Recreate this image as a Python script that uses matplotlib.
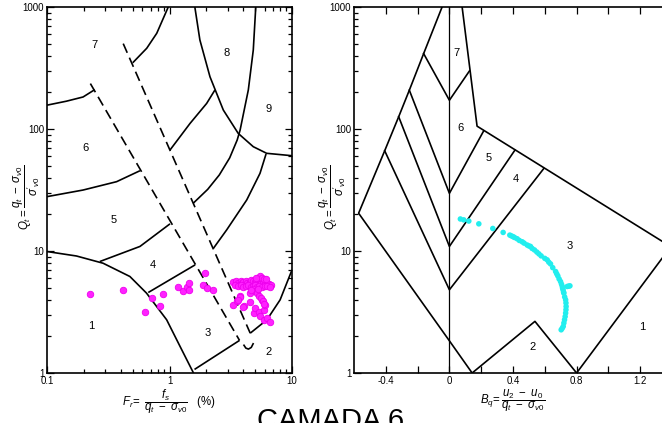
import matplotlib
matplotlib.use("Agg")
import matplotlib.pyplot as plt
from matplotlib.ticker import FixedLocator, LogLocator, NullFormatter, FuncFormatter

plt.rcParams['font.family'] = ['Liberation Sans', 'DejaVu Sans']
plt.rcParams['mathtext.fontset'] = 'custom'
plt.rcParams['mathtext.rm'] = 'Liberation Sans'
plt.rcParams['mathtext.it'] = 'Liberation Sans:italic'
plt.rcParams['mathtext.bf'] = 'Liberation Sans:bold'

# ---------------- Left chart (Fr vs Qt) boundaries ----------------
zone1_fr = [0.1, 0.174, 0.287, 0.475, 0.65, 0.948, 1.22, 1.57]
zone1_qt = [9.9, 9.1, 7.94, 6.18, 4.51, 2.73, 1.65, 1.0]

zone3_bottom_fr = [1.6, 3.73]
zone3_bottom_qt = [1.07, 1.85]

hook_fr = [4.02, 4.2, 4.41, 4.65, 4.85]
hook_qt = [1.71, 1.6, 1.57, 1.62, 1.76]

zone2_fr = [4.56, 6.24, 8.0, 10.0]
zone2_qt = [2.12, 2.73, 3.98, 7.0]

dash_left_fr = [0.226, 3.73]
dash_left_qt = [235.7, 1.85]
dash_right_fr = [0.419, 4.56]
dash_right_qt = [501.0, 2.12]

b34_fr = [0.671, 1.62]
b34_qt = [4.57, 7.7]
b45_fr = [0.27, 0.574, 1.01]
b45_qt = [8.2, 10.9, 16.7]
b56_fr = [0.1, 0.197, 0.37, 0.574]
b56_qt = [27.9, 31.6, 37.0, 45.5]
b67_fr = [0.1, 0.144, 0.197, 0.245]
b67_qt = [156.8, 169.0, 183.0, 210.0]

curveA_fr = [0.501, 0.652, 0.787, 0.89, 0.977]
curveA_qt = [349.0, 459.0, 609.0, 808.0, 1000.0]
curveB_fr = [1.61, 1.77, 2.14, 2.75, 3.64, 4.83, 6.21, 10.0]
curveB_qt = [1000.0, 537.0, 268.0, 143.0, 92.0, 71.6, 63.2, 60.4]
curveC_fr = [1.56, 2.05, 2.55, 3.1, 3.57, 3.77, 4.4, 4.83, 5.06]
curveC_qt = [24.6, 32.0, 42.0, 58.0, 81.3, 98.0, 209.0, 444.0, 1000.0]
curveD_fr = [1.01, 1.47, 2.01, 2.35]
curveD_qt = [67.3, 111.0, 162.0, 209.0]
curveE_fr = [2.28, 2.93, 4.27, 5.48, 6.14]
curveE_qt = [10.5, 14.9, 26.2, 43.3, 62.4]

left_zone_labels = ['7', '8', '9', '6', '5', '4', '1', '3', '2']
left_label_fr = [0.245, 2.9, 6.44, 0.207, 0.351, 0.725, 0.231, 2.05, 6.49]
left_label_qt = [485.0, 420.0, 147.0, 70.2, 18.0, 7.7, 2.44, 2.12, 1.5]

# magenta data points
pts_fr = [0.223, 0.414, 0.631, 0.716, 0.836, 0.891, 1.18, 1.28, 1.38, 1.45, 1.44,
          1.86, 1.95, 2.02, 2.26, 3.33, 3.59, 3.73, 4.02, 4.5, 4.85, 5.01, 5.33,
          5.51, 5.86, 5.86, 6.24, 6.56, 6.05, 5.68, 4.5, 3.77, 3.6, 4.0,
          3.3, 3.5, 3.6, 3.8, 3.9, 4.0, 4.2, 4.3, 4.5, 4.6, 4.8, 5.0, 5.1, 5.3,
          5.5, 5.6, 5.8, 6.0, 6.2, 6.5, 6.8,
          3.4, 3.6, 3.8, 4.0, 4.2, 4.4, 4.6, 4.8, 5.0, 5.2, 5.4, 5.7, 6.0, 6.3, 6.6,
          5.3, 5.5, 5.7, 5.9, 5.1, 6.1,
          4.8, 5.0, 5.2, 5.4, 5.6, 5.8, 5.9, 4.6, 5.3]
pts_qt = [4.40, 4.78, 3.14, 4.15, 3.51, 4.40, 5.05, 4.66, 5.05, 5.42, 4.81,
          5.28, 6.66, 4.99, 4.83, 3.62, 3.91, 4.24, 3.56, 3.79, 3.10, 3.40, 3.19,
          2.91, 3.30, 2.70, 2.82, 2.60, 3.62, 3.98, 4.5, 4.2, 3.96, 3.5,
          5.6, 5.7, 5.5, 5.7, 5.5, 5.6, 5.7, 5.5, 5.6, 5.8, 5.7, 5.6, 5.8, 5.7,
          5.6, 5.7, 5.5, 5.6, 5.5, 5.4, 5.3,
          5.3, 5.2, 5.3, 5.1, 5.2, 5.3, 5.1, 5.2, 5.3, 5.1, 5.2, 5.1, 5.2, 5.2, 5.1,
          6.0, 6.2, 6.0, 5.9, 6.0, 5.9,
          4.9, 4.7, 4.5, 4.3, 4.1, 3.9, 3.7, 4.8, 4.9]

# ---------------- Right chart (Bq vs Qt) boundaries ----------------
outer_left_bq = [-0.046, -0.162, -0.252, -0.319, -0.407, -0.571, 0.002, 0.143]
outer_left_qt = [1000.0, 415.0, 208.0, 126.0, 66.3, 20.4, 1.82, 1.0]
zone2r_bq = [0.143, 0.538, 0.8, 1.4]
zone2r_qt = [1.0, 2.65, 1.0, 11.2]
top_bq = [0.08, 0.174, 1.4]
top_qt = [1000.0, 105.5, 10.7]
axis0_bq = [0.0, 0.0]
axis0_qt = [1.0, 1000.0]
v67_bq = [-0.162, 0.0, 0.126]
v67_qt = [415.0, 172.0, 299.0]
v56_bq = [-0.252, 0.0, 0.216]
v56_qt = [208.0, 29.7, 96.7]
v45_bq = [-0.319, 0.0, 0.412]
v45_qt = [126.0, 10.9, 67.1]
v34_bq = [-0.407, 0.0, 0.594]
v34_qt = [66.3, 4.81, 47.5]

right_zone_labels = ['7', '6', '5', '4', '3', '2', '1']
right_label_bq = [0.044, 0.069, 0.244, 0.42, 0.758, 0.521, 1.214]
right_label_qt = [423.0, 102.0, 57.4, 38.6, 11.0, 1.62, 2.38]

# cyan data points
cy_bq = [0.069, 0.090, 0.122, 0.185, 0.273, 0.338, 0.38, 0.39, 0.401, 0.41, 0.426,
         0.44, 0.458, 0.47, 0.489, 0.50, 0.51, 0.52, 0.535, 0.55, 0.563, 0.577,
         0.60, 0.615, 0.625, 0.636, 0.65, 0.668, 0.675, 0.682, 0.69, 0.699, 0.705,
         0.71, 0.715, 0.72, 0.725, 0.731, 0.733, 0.734, 0.733, 0.731, 0.728, 0.724,
         0.72, 0.716, 0.71, 0.703, 0.758, 0.741, 0.75, 0.712, 0.718]
cy_qt = [18.3, 18.0, 17.6, 16.7, 15.3, 14.2, 13.5, 13.3, 13.1, 12.9, 12.6,
         12.2, 11.9, 11.6, 11.2, 11.0, 10.9, 10.5, 10.2, 9.8, 9.47, 9.12,
         8.7, 8.46, 8.1, 7.84, 7.3, 6.79, 6.5, 6.25, 5.9, 5.62, 5.35,
         5.12, 4.8, 4.51, 4.2, 3.98, 3.75, 3.51, 3.3, 3.1, 2.9, 2.73,
         2.57, 2.41, 2.33, 2.26, 5.18, 5.12, 5.15, 4.95, 4.6]

fig = plt.figure(figsize=(6.62, 4.23), dpi=100)
W, H = 662.0, 423.0
ax1 = fig.add_axes([47 / W, 1 - 373 / H, 245 / W, 366 / H])
ax2 = fig.add_axes([354 / W, 1 - 373 / H, 318 / W, 366 / H])

lc = 'black'
lw = 1.2

# ---- left
ax1.set_xscale('log')
ax1.set_yscale('log')
ax1.set_xlim(0.1, 10)
ax1.set_ylim(1, 1000)
for xs, ys in [(zone1_fr, zone1_qt), (zone3_bottom_fr, zone3_bottom_qt), (hook_fr, hook_qt),
               (zone2_fr, zone2_qt), (b34_fr, b34_qt), (b45_fr, b45_qt), (b56_fr, b56_qt),
               (b67_fr, b67_qt), (curveA_fr, curveA_qt), (curveB_fr, curveB_qt),
               (curveC_fr, curveC_qt), (curveD_fr, curveD_qt), (curveE_fr, curveE_qt)]:
    ax1.plot(xs, ys, color=lc, lw=lw, solid_capstyle='butt')
for xs, ys in [(dash_left_fr, dash_left_qt), (dash_right_fr, dash_right_qt)]:
    ax1.plot(xs, ys, color=lc, lw=lw, dashes=(6, 3.2))
for t, x, y in zip(left_zone_labels, left_label_fr, left_label_qt):
    ax1.text(x, y, t, ha='center', va='center', fontsize=8)
ax1.scatter(pts_fr, pts_qt, s=22, color='#ff22ff', edgecolors='#ee00ee', linewidths=0.6, zorder=3)

fmt = FuncFormatter(lambda v, p: '%g' % v)
ax1.xaxis.set_major_locator(FixedLocator([0.1, 1, 10]))
ax1.xaxis.set_major_formatter(fmt)
ax1.xaxis.set_minor_locator(LogLocator(base=10, subs=range(2, 10)))
ax1.xaxis.set_minor_formatter(NullFormatter())
ax1.yaxis.set_major_locator(FixedLocator([1, 10, 100, 1000]))
ax1.yaxis.set_major_formatter(fmt)
ax1.yaxis.set_minor_locator(LogLocator(base=10, subs=range(2, 10)))
ax1.yaxis.set_minor_formatter(NullFormatter())
ax1.set_xlabel(r'$F_r\!=\ \dfrac{f_s}{q_t\ -\ \sigma_{v0}}\ \ \ (\%)$', fontsize=8.3, labelpad=1)
ax1.set_ylabel(r"$Q_t = \dfrac{q_t\ -\ \sigma_{v0}}{\sigma'_{v0}}$", fontsize=8.3)
ax1.yaxis.set_label_coords(-0.022, 0.48)

# ---- right
ax2.set_yscale('log')
ax2.set_xlim(-0.6, 1.4)
ax2.set_ylim(1, 1000)
for xs, ys in [(outer_left_bq, outer_left_qt), (zone2r_bq, zone2r_qt), (top_bq, top_qt),
               (v67_bq, v67_qt), (v56_bq, v56_qt), (v45_bq, v45_qt), (v34_bq, v34_qt)]:
    ax2.plot(xs, ys, color=lc, lw=lw)
ax2.plot(axis0_bq, axis0_qt, color=lc, lw=0.9)
for t, x, y in zip(right_zone_labels, right_label_bq, right_label_qt):
    ax2.text(x, y, t, ha='center', va='center', fontsize=8)
ax2.scatter(cy_bq, cy_qt, s=16, color='#22eeee', edgecolors='none', zorder=3)
ax2.xaxis.set_major_locator(FixedLocator([-0.4, 0, 0.4, 0.8, 1.2]))
ax2.xaxis.set_major_formatter(fmt)
ax2.xaxis.set_minor_locator(FixedLocator([-0.2, 0.2, 0.6, 1.0]))
ax2.yaxis.set_major_locator(FixedLocator([1, 10, 100, 1000]))
ax2.yaxis.set_major_formatter(fmt)
ax2.yaxis.set_minor_locator(LogLocator(base=10, subs=range(2, 10)))
ax2.yaxis.set_minor_formatter(NullFormatter())
ax2.set_xlabel(r'$B_q\!=\dfrac{u_2\ -\ u_0}{q_t\ -\ \sigma_{v0}}$', fontsize=8.3, labelpad=1)
ax2.set_ylabel(r"$Q_t = \dfrac{q_t\ -\ \sigma_{v0}}{\sigma'_{v0}}$", fontsize=8.3)
ax2.yaxis.set_label_coords(-0.02, 0.48)

for ax in (ax1, ax2):
    ax.tick_params(which='both', direction='in', top=True, right=True, labelsize=7, pad=2, width=0.9)
    ax.tick_params(which='major', length=5)
    ax.tick_params(which='minor', length=3)
    for s in ax.spines.values():
        s.set_linewidth(1.2)
ax2.tick_params(which='minor', axis='x', length=5)

fig.text(0.5, 1 - 429 / H, 'CAMADA 6', ha='center', va='baseline', fontsize=21)

fig.savefig('out.png', dpi=100)
